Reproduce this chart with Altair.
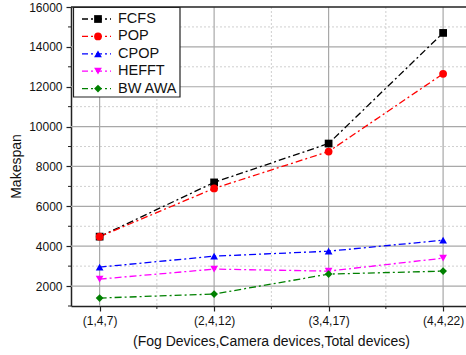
import altair as alt
import pandas as pd

# Device configurations on the x axis
configs = ["(1,4,7)", "(2,4,12)", "(3,4,17)", "(4,4,22)"]
positions = [1, 2, 3, 4]

# Makespan per scheduling algorithm
series_names = ["FCFS", "POP", "CPOP", "HEFFT", "BW AWA"]
fcfs = [4480, 7200, 9150, 14700]
pop = [4480, 6900, 8750, 12650]
cpop = [2950, 3500, 3750, 4300]
hefft = [2350, 2850, 2750, 3400]
bw_awa = [1400, 1600, 2600, 2750]

colors = ["#000000", "#ff0000", "#0000ff", "#ff00ff", "#008000"]
shapes = ["square", "circle", "triangle-up", "triangle-down", "diamond"]

# Grid and tick positions
y_major = [2000, 4000, 6000, 8000, 10000, 12000, 14000]
y_minor = [1000, 3000, 5000, 7000, 9000, 11000, 13000, 15000]
x_minor = [1.5, 2.5, 3.5]

rows = []
for name, vals in zip(series_names, [fcfs, pop, cpop, hefft, bw_awa]):
    for p, v in zip(positions, vals):
        rows.append({"series": name, "x": p, "y": v})
df = pd.DataFrame(rows)

W, H = 395, 299
FONT = "Liberation Sans"
AXIS_COLOR = "#222222"

xscale = alt.Scale(domain=[0.75, 4.2], nice=False, zero=False)
yscale = alt.Scale(domain=[1000, 16000], nice=False, zero=False)
color_scale = alt.Scale(domain=series_names, range=colors)
shape_scale = alt.Scale(domain=series_names, range=shapes)
dash = [7, 3, 2, 3]

label_expr = "[" + ",".join(f"'{c}'" for c in configs) + "][datum.value - 1]"

x_axis = alt.Axis(
    values=positions, labelExpr=label_expr, grid=False,
    title="(Fog Devices,Camera devices,Total devices)",
    titleX=200, titlePadding=8,
)
y_axis = alt.Axis(
    values=y_major + [16000], grid=False, title="Makespan",
    format="d", titleX=-55, titleY=159, titleBaseline="middle",
)


def xenc(field):
    return alt.X(field, type="quantitative", scale=xscale, axis=x_axis)


def yenc(field):
    return alt.Y(field, type="quantitative", scale=yscale, axis=y_axis)


# Grid lines
grid_major_y = alt.Chart(pd.DataFrame({"y": y_major})).mark_rule(
    color="#a8a8a8", strokeWidth=1.2
).encode(y=yenc("y"))
grid_minor_y = alt.Chart(pd.DataFrame({"y": y_minor[1:]})).mark_rule(
    color="#cfcfcf", strokeWidth=1, strokeDash=[2, 2]
).encode(y=yenc("y"))
grid_major_x = alt.Chart(pd.DataFrame({"x": positions})).mark_rule(
    color="#a8a8a8", strokeWidth=1.2
).encode(x=xenc("x"))
grid_minor_x = alt.Chart(pd.DataFrame({"x": x_minor})).mark_rule(
    color="#cfcfcf", strokeWidth=1, strokeDash=[2, 2]
).encode(x=xenc("x"))

# Top frame line
top_line = alt.Chart(pd.DataFrame({"y": [16000]})).mark_rule(
    color=AXIS_COLOR, strokeWidth=1.5
).encode(y=yenc("y"))

# Minor ticks
minor_ticks_y = alt.Chart(pd.DataFrame({"y": y_minor})).mark_rule(
    color=AXIS_COLOR, strokeWidth=1, clip=False
).encode(y=yenc("y"), x=alt.value(-3), x2=alt.value(0))
minor_ticks_x = alt.Chart(pd.DataFrame({"x": x_minor})).mark_rule(
    color=AXIS_COLOR, strokeWidth=1, clip=False
).encode(x=xenc("x"), y=alt.value(H), y2=alt.value(H + 3))

# Series lines and markers
base = alt.Chart(df).encode(
    x=xenc("x"),
    y=yenc("y"),
    color=alt.Color("series:N", scale=color_scale, legend=None),
)
lines = base.mark_line(strokeWidth=1.3, strokeDash=dash)
points = base.mark_point(filled=True, size=60, opacity=1).encode(
    shape=alt.Shape("series:N", scale=shape_scale, legend=None)
)

# Legend drawn inside the plot
leg = pd.DataFrame({"series": series_names, "row": list(range(len(series_names)))})
leg_base = alt.Chart(leg).transform_calculate(ly="12 + datum.row * 17.4")
leg_box = alt.Chart(pd.DataFrame({"a": [0]})).mark_rect(
    fill="white", stroke=AXIS_COLOR, strokeWidth=1.2
).encode(x=alt.value(2.5), x2=alt.value(109), y=alt.value(0.5), y2=alt.value(90))
leg_lines = leg_base.mark_rule(strokeWidth=1.3, strokeDash=[6, 3, 2, 3]).encode(
    x=alt.value(11), x2=alt.value(40),
    y=alt.Y("ly:Q", scale=None),
    color=alt.Color("series:N", scale=color_scale, legend=None),
)
leg_pts = leg_base.mark_point(filled=True, size=60, opacity=1).encode(
    x=alt.value(27),
    y=alt.Y("ly:Q", scale=None),
    color=alt.Color("series:N", scale=color_scale, legend=None),
    shape=alt.Shape("series:N", scale=shape_scale, legend=None),
)
leg_text = leg_base.mark_text(
    align="left", baseline="middle", font=FONT, color="#111"
).encode(
    x=alt.value(47),
    y=alt.Y("ly:Q", scale=None),
    text="series:N",
    size=alt.value(14.5),
)

chart = alt.layer(
    grid_minor_y, grid_minor_x, grid_major_y, grid_major_x,
    top_line, minor_ticks_y, minor_ticks_x,
    lines, points,
    leg_box, leg_lines, leg_pts, leg_text,
).properties(
    width=W, height=H,
    background="white",
    autosize=alt.AutoSizeParams(type="none"),
    padding={"left": 71, "top": 7, "right": 0, "bottom": 49},
).configure_view(
    stroke=None
).configure_axis(
    domainColor=AXIS_COLOR, domainWidth=1.5,
    tickColor=AXIS_COLOR, tickSize=5, tickWidth=1.2,
    labelFont=FONT, labelFontSize=12, labelColor="#111",
    labelPadding=4,
    titleFont=FONT, titleFontSize=14, titleFontWeight="normal", titleColor="#111",
)

chart.save("out.html", embed_options={"renderer": "svg", "actions": False})
